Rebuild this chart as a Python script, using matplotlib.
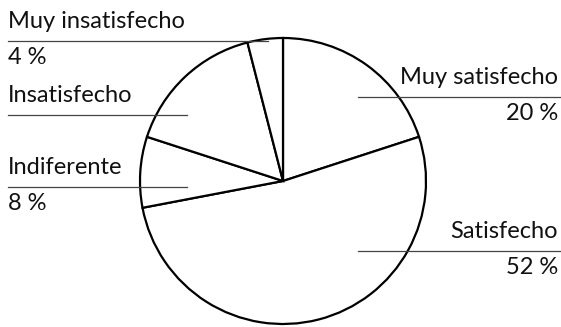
import matplotlib.pyplot as plt

# encuesta de satisfacción
categorias = ['Muy satisfecho', 'Satisfecho', 'Indiferente', 'Insatisfecho', 'Muy insatisfecho']
porcentajes = [20, 52, 8, 16, 4]
etiquetas_pct = ['20 %', '52 %', '8 %', None, '4 %']

plt.rcParams['font.family'] = ['Lato', 'DejaVu Sans']

W, H = 561, 327
fig = plt.figure(figsize=(W / 100, H / 100), dpi=100)
ax = fig.add_axes([0, 0, 1, 1])

ax.pie(porcentajes, startangle=90, counterclock=False, center=(283, H - 181), radius=143,
       colors=['white'] * len(porcentajes),
       wedgeprops=dict(edgecolor='black', linewidth=1.6))

# etiquetas: (x texto, y línea, x0 línea, x1 línea, alineación)
pos = {
    'Muy satisfecho': (558, 97, 358, 561, 'right'),
    'Satisfecho': (558, 251, 358, 561, 'right'),
    'Indiferente': (8, 187, 8, 187, 'left'),
    'Insatisfecho': (8, 115, 8, 187, 'left'),
    'Muy insatisfecho': (8, 41, 8, 268, 'left'),
}
for cat, pct in zip(categorias, etiquetas_pct):
    x, yl, x0, x1, ha = pos[cat]
    ax.plot([x0, x1], [H - yl, H - yl], color='#444444', lw=0.9)
    ax.text(x, H - yl + 13, cat, ha=ha, va='baseline', fontsize=17, color='#111111')
    if pct:
        ax.text(x, H - yl - 23, pct, ha=ha, va='baseline', fontsize=17, color='#111111')

ax.set_xlim(0, W)
ax.set_ylim(0, H)
ax.set_aspect('auto')
ax.axis('off')

fig.savefig('out.png', dpi=100)
